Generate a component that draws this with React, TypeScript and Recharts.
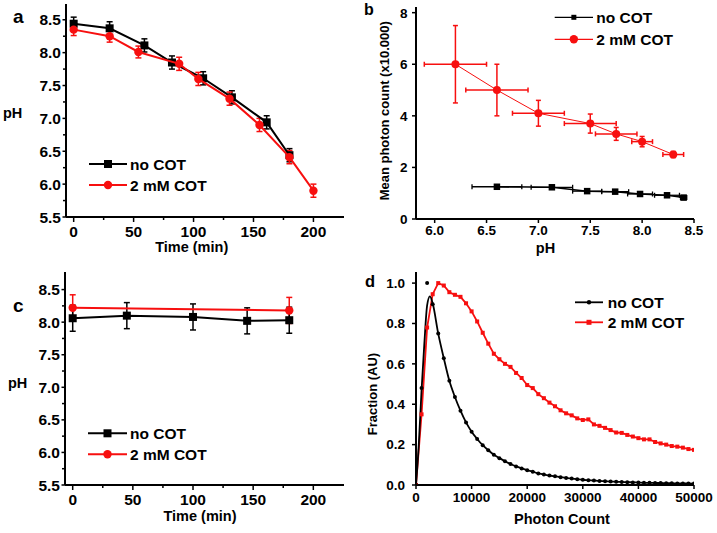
import React from 'react';
import { ComposedChart, Scatter, Line, XAxis, YAxis, ErrorBar } from 'recharts';

const FONT = '"Liberation Sans", Arial, Helvetica, sans-serif';
const RED = '#f70f0f';
const BLACK = '#000000';

// ---------- Panel a ----------
const aTimeNoCot = [0, 30, 59, 82, 108, 132, 161, 180];
const aPhNoCot = [8.44, 8.37, 8.11, 7.85, 7.61, 7.32, 6.94, 6.44];
const aErrNoCot = [0.1, 0.1, 0.1, 0.1, 0.1, 0.1, 0.1, 0.1];
const aTimeCot = [0, 30, 54, 88, 104, 130, 155, 180, 200];
const aPhCot = [8.35, 8.25, 8.01, 7.83, 7.6, 7.3, 6.9, 6.41, 5.9];
const aErrCot = [0.09, 0.09, 0.09, 0.1, 0.1, 0.1, 0.1, 0.1, 0.1];
const timeTicks = [0, 25, 50, 75, 100, 125, 150, 175, 200];
const timeMajor = [0, 50, 100, 150, 200];
const phTicks = [5.5, 5.75, 6, 6.25, 6.5, 6.75, 7, 7.25, 7.5, 7.75, 8, 8.25, 8.5];
const phMajor = [5.5, 6, 6.5, 7, 7.5, 8, 8.5];

// ---------- Panel b ----------
const bPhNoCot = [6.6, 7.13, 7.47, 7.74, 7.98, 8.24, 8.4];
const bCountNoCot = [1.25, 1.23, 1.08, 1.06, 0.97, 0.92, 0.83];
const bPhErrNoCot = [0.24, 0.2, 0.14, 0.13, 0.12, 0.12, 0.03];
const bCountErrNoCot = [0.08, 0.05, 0.05, 0.04, 0.04, 0.04, 0.04];
const bPhCot = [6.2, 6.6, 7.0, 7.5, 7.75, 8.0, 8.3];
const bCountCot = [6.0, 5.0, 4.1, 3.7, 3.3, 3.0, 2.5];
const bPhErrCot = [0.3, 0.3, 0.25, 0.25, 0.2, 0.1, 0.1];
const bCountErrCot = [1.5, 1.0, 0.5, 0.37, 0.25, 0.2, 0.12];
const bXTicks = [6.0, 6.5, 7.0, 7.5, 8.0, 8.5];
const bYTicks = [0, 2, 4, 6, 8];

// ---------- Panel c ----------
const cTimeNoCot = [0, 45, 100, 145, 180];
const cPhNoCot = [8.06, 8.1, 8.08, 8.02, 8.03];
const cErrNoCot = [0.2, 0.2, 0.2, 0.2, 0.2];
const cTimeCot = [0, 180];
const cPhCot = [8.22, 8.18];
const cErrCot = [0.2, 0.2];

// ---------- Panel d ----------
const dCounts = [0, 1000, 2000, 3000, 4000, 5000, 6000, 7000, 8000, 9000, 10000, 11000, 12000, 13000, 14000, 15000, 16000, 17000, 18000, 19000, 20000, 21000, 22000, 23000, 24000, 25000, 26000, 27000, 28000, 29000, 30000, 31000, 32000, 33000, 34000, 35000, 36000, 37000, 38000, 39000, 40000, 41000, 42000, 43000, 44000, 45000, 46000, 47000, 48000, 49000, 50000];
const dNoCot = [0, 0.48, 1.0, 0.895, 0.75, 0.628, 0.516, 0.436, 0.368, 0.31, 0.264, 0.228, 0.197, 0.172, 0.15, 0.133, 0.118, 0.104, 0.092, 0.082, 0.073, 0.066, 0.057, 0.052, 0.047, 0.043, 0.039, 0.035, 0.032, 0.029, 0.026, 0.024, 0.022, 0.02, 0.019, 0.017, 0.016, 0.015, 0.014, 0.013, 0.012, 0.011, 0.011, 0.01, 0.01, 0.009, 0.009, 0.008, 0.008, 0.008, 0.007];
const dCot = [0, 0.35, 0.78, 0.945, 1.0, 0.988, 0.955, 0.942, 0.932, 0.9, 0.86, 0.81, 0.754, 0.7, 0.65, 0.623, 0.6, 0.585, 0.555, 0.53, 0.495, 0.48, 0.45, 0.43, 0.408, 0.39, 0.37, 0.355, 0.345, 0.33, 0.322, 0.325, 0.3, 0.293, 0.283, 0.272, 0.26, 0.258, 0.248, 0.24, 0.232, 0.226, 0.226, 0.213, 0.206, 0.2, 0.193, 0.19, 0.185, 0.178, 0.174];
const dFitHeadX = [0, 500, 1000, 1500, 2000, 2500, 3000];
const dFitHeadY = [0, 0.2, 0.47, 0.7, 0.89, 0.934, 0.9];
const dXTicks = [0, 10000, 20000, 30000, 40000, 50000];
const dYTicks = [0, 0.2, 0.4, 0.6, 0.8, 1.0];

// ---------- derived tables ----------
const zip3 = (xs: number[], ys: number[], es: number[]) => xs.map((x, i) => ({ x, y: ys[i], e: es[i] }));
const aNo = zip3(aTimeNoCot, aPhNoCot, aErrNoCot);
const aCo = zip3(aTimeCot, aPhCot, aErrCot);
const cNo = zip3(cTimeNoCot, cPhNoCot, cErrNoCot);
const cCo = zip3(cTimeCot, cPhCot, cErrCot);
const bNo = bPhNoCot.map((x, i) => ({ x, y: bCountNoCot[i], ex: bPhErrNoCot[i], ey: bCountErrNoCot[i] }));
const bCo = bPhCot.map((x, i) => ({ x, y: bCountCot[i], ex: bPhErrCot[i], ey: bCountErrCot[i] }));
const dNoDots = dCounts.map((x, i) => ({ x, y: dNoCot[i] }));
const dCoPts = dCounts.map((x, i) => ({ x, y: dCot[i] }));
const dNoFit = [
  ...dFitHeadX.map((x, i) => ({ x, y: dFitHeadY[i] })),
  ...dNoDots.filter((p) => p.x > 3000),
];

// ---------- helpers ----------
const isIn = (list: number[], v: number) => list.some((m) => Math.abs(m - v) < 1e-9);

type TickOpts = { majors: number[]; fmt: (v: number) => string; size: number; majorLen: number; minorLen: number; gap: number };

const xTick = (o: TickOpts) => (p: any) => {
  const v = p.payload.value;
  const major = isIn(o.majors, v);
  return (
    <g>
      <line x1={p.x} x2={p.x} y1={p.y} y2={p.y + (major ? o.majorLen : o.minorLen)} stroke={BLACK} strokeWidth={1.5} />
      {major && (
        <text x={p.x} y={p.y + o.gap} textAnchor="middle" fontFamily={FONT} fontWeight="bold" fontSize={o.size} fill={BLACK}>
          {o.fmt(v)}
        </text>
      )}
    </g>
  );
};

const yTick = (o: TickOpts) => (p: any) => {
  const v = p.payload.value;
  const major = isIn(o.majors, v);
  return (
    <g>
      <line x1={p.x} x2={p.x - (major ? o.majorLen : o.minorLen)} y1={p.y} y2={p.y} stroke={BLACK} strokeWidth={1.5} />
      {major && (
        <text x={p.x - o.gap} y={p.y + o.size * 0.36} textAnchor="end" fontFamily={FONT} fontWeight="bold" fontSize={o.size} fill={BLACK}>
          {o.fmt(v)}
        </text>
      )}
    </g>
  );
};

const square = (s: number, c: string) => (p: any) => (
  <rect x={p.cx - s / 2} y={p.cy - s / 2} width={s} height={s} fill={c} />
);
const circle = (r: number, c: string) => (p: any) => <circle cx={p.cx} cy={p.cy} r={r} fill={c} />;

const frameLine = { stroke: BLACK, strokeWidth: 2 };

const Frame = () => [
  <XAxis key="ft" xAxisId="top" orientation="top" type="number" domain={[0, 1]} height={0} tick={false} tickLine={false} axisLine={frameLine} />,
  <YAxis key="fr" yAxisId="right" orientation="right" type="number" domain={[0, 1]} width={0} tick={false} tickLine={false} axisLine={frameLine} />,
];

const Txt = (props: any) => (
  <text fontFamily={FONT} fontWeight="bold" fill={BLACK} {...props} />
);

type LegendRow = { label: string; color: string; marker: 'square' | 'circle' | 'dot' | 'smallsquare'; y: number };
const LegendBox = ({ x1, x2, textX, rows, size, sw }: { x1: number; x2: number; textX: number; rows: LegendRow[]; size: number; sw: number }) => (
  <g>
    {rows.map((r) => {
      const mx = (x1 + x2) / 2;
      let m: any = null;
      if (r.marker === 'square') m = <rect x={mx - 4} y={r.y - 4} width={8} height={8} fill={r.color} />;
      if (r.marker === 'smallsquare') m = <rect x={mx - 2.5} y={r.y - 2.5} width={5} height={5} fill={r.color} />;
      if (r.marker === 'circle') m = <circle cx={mx} cy={r.y} r={4.2} fill={r.color} />;
      if (r.marker === 'dot') m = <circle cx={mx} cy={r.y} r={2.2} fill={r.color} />;
      return (
        <g key={r.label}>
          <line x1={x1} x2={x2} y1={r.y} y2={r.y} stroke={r.color} strokeWidth={sw} />
          {m}
          <Txt x={textX} y={r.y + size * 0.36} fontSize={size}>{r.label}</Txt>
        </g>
      );
    })}
  </g>
);

const fmt1 = (v: number) => v.toFixed(1);
const fmt0 = (v: number) => String(v);

function PanelA() {
  return (
    <ComposedChart width={358} height={265} margin={{ top: 4, right: 14, bottom: 0, left: 0 }}>
      <XAxis type="number" dataKey="x" domain={[-6.4, 225.5]} ticks={timeTicks} allowDataOverflow height={48} tickSize={0} tickMargin={0} tickLine={false} axisLine={frameLine} interval={0}
        tick={xTick({ majors: timeMajor, fmt: fmt0, size: 15.5, majorLen: 5, minorLen: 3, gap: 19.5 })} />
      <YAxis type="number" dataKey="y" domain={[5.5, 8.74]} ticks={phTicks} allowDataOverflow width={66} tickSize={0} tickMargin={0} tickLine={false} axisLine={frameLine} interval={0}
        tick={yTick({ majors: phMajor, fmt: fmt1, size: 15.5, majorLen: 3.5, minorLen: 3, gap: 5 })} />
      {Frame()}
      <Scatter data={aNo} line={{ stroke: BLACK, strokeWidth: 2 }} lineType="joint" shape={square(8, BLACK)} isAnimationActive={false}>
        <ErrorBar dataKey="e" direction="y" stroke={BLACK} strokeWidth={1.5} width={3} isAnimationActive={false} />
      </Scatter>
      <Scatter data={aCo} line={{ stroke: RED, strokeWidth: 2 }} lineType="joint" shape={circle(4.2, RED)} isAnimationActive={false}>
        <ErrorBar dataKey="e" direction="y" stroke={RED} strokeWidth={1.5} width={3} isAnimationActive={false} />
      </Scatter>
      <Txt x={13} y={23.3} fontSize={19}>a</Txt>
      <Txt x={3} y={117.5} fontSize={14.5}>pH</Txt>
      <Txt x={191.7} y={252} fontSize={14.5} textAnchor="middle">Time (min)</Txt>
      <LegendBox x1={89} x2={127} textX={130} size={15.5} sw={2}
        rows={[{ label: 'no COT', color: BLACK, marker: 'square', y: 164 }, { label: '2 mM COT', color: RED, marker: 'circle', y: 185 }]} />
    </ComposedChart>
  );
}

function PanelB() {
  return (
    <ComposedChart width={359} height={265} margin={{ top: 7, right: 23, bottom: 0, left: 0 }}>
      <XAxis type="number" dataKey="x" domain={[5.82, 8.5]} ticks={bXTicks} allowDataOverflow height={46} tickSize={0} tickMargin={0} tickLine={false} axisLine={frameLine} interval={0}
        tick={xTick({ majors: bXTicks, fmt: fmt1, size: 13.5, majorLen: 4, minorLen: 2, gap: 16 })} />
      <YAxis type="number" dataKey="y" domain={[0, 8.22]} ticks={bYTicks} allowDataOverflow width={58} tickSize={0} tickMargin={0} tickLine={false} axisLine={frameLine} interval={0}
        tick={yTick({ majors: bYTicks, fmt: fmt0, size: 13.5, majorLen: 4, minorLen: 2, gap: 8.5 })} />
      {Frame()}
      <Scatter data={bNo} line={{ stroke: BLACK, strokeWidth: 1.5 }} lineType="joint" shape={square(6.5, BLACK)} isAnimationActive={false}>
        <ErrorBar dataKey="ex" direction="x" stroke={BLACK} strokeWidth={1.3} width={2.5} isAnimationActive={false} />
        <ErrorBar dataKey="ey" direction="y" stroke={BLACK} strokeWidth={1.3} width={2.5} isAnimationActive={false} />
      </Scatter>
      <Scatter data={bCo} line={{ stroke: RED, strokeWidth: 1 }} lineType="joint" shape={circle(4, RED)} isAnimationActive={false}>
        <ErrorBar dataKey="ex" direction="x" stroke={RED} strokeWidth={1.5} width={2.5} isAnimationActive={false} />
        <ErrorBar dataKey="ey" direction="y" stroke={RED} strokeWidth={1.5} width={2.5} isAnimationActive={false} />
      </Scatter>
      <Txt x={6} y={14.5} fontSize={16}>b</Txt>
      <Txt x={0} y={0} fontSize={13} textAnchor="middle" dominantBaseline="central" transform="translate(26.7,110.8) rotate(-90)">Mean photon count (x10.000)</Txt>
      <Txt x={187.5} y={253} fontSize={14.5} textAnchor="middle">pH</Txt>
      <LegendBox x1={196.7} x2={235} textX={238.3} size={15.5} sw={1.3}
        rows={[{ label: 'no COT', color: BLACK, marker: 'smallsquare', y: 17.3 }, { label: '2 mM COT', color: RED, marker: 'circle', y: 39.3 }]} />
    </ComposedChart>
  );
}

function PanelC() {
  return (
    <ComposedChart width={358} height={268} margin={{ top: 7, right: 14, bottom: 0, left: 0 }}>
      <XAxis type="number" dataKey="x" domain={[-6.4, 225.5]} ticks={timeTicks} allowDataOverflow height={48} tickSize={0} tickMargin={0} tickLine={false} axisLine={frameLine} interval={0}
        tick={xTick({ majors: timeMajor, fmt: fmt0, size: 15.5, majorLen: 5, minorLen: 3, gap: 20 })} />
      <YAxis type="number" dataKey="y" domain={[5.5, 8.77]} ticks={phTicks} allowDataOverflow width={65} tickSize={0} tickMargin={0} tickLine={false} axisLine={frameLine} interval={0}
        tick={yTick({ majors: phMajor, fmt: fmt1, size: 15.5, majorLen: 3.5, minorLen: 3, gap: 5 })} />
      {Frame()}
      <Scatter data={cCo} line={{ stroke: RED, strokeWidth: 2 }} lineType="joint" shape={circle(4.2, RED)} isAnimationActive={false}>
        <ErrorBar dataKey="e" direction="y" stroke={RED} strokeWidth={1.5} width={3} isAnimationActive={false} />
      </Scatter>
      <Scatter data={cNo} line={{ stroke: BLACK, strokeWidth: 2 }} lineType="joint" shape={square(8, BLACK)} isAnimationActive={false}>
        <ErrorBar dataKey="e" direction="y" stroke={BLACK} strokeWidth={1.5} width={3} isAnimationActive={false} />
      </Scatter>
      <Txt x={13} y={47} fontSize={19}>c</Txt>
      <Txt x={8} y={123} fontSize={14.5}>pH</Txt>
      <Txt x={200} y={256} fontSize={14.5} textAnchor="middle">Time (min)</Txt>
      <LegendBox x1={88} x2={127} textX={130} size={15.5} sw={2}
        rows={[{ label: 'no COT', color: BLACK, marker: 'square', y: 168.3 }, { label: '2 mM COT', color: RED, marker: 'circle', y: 189.3 }]} />
    </ComposedChart>
  );
}

function PanelD() {
  return (
    <ComposedChart width={359} height={268} margin={{ top: 7, right: 23, bottom: 0, left: 0 }}>
      <XAxis type="number" dataKey="x" domain={[0, 50000]} ticks={dXTicks} allowDataOverflow height={48} tickSize={0} tickMargin={0} tickLine={false} axisLine={frameLine} interval={0}
        tick={xTick({ majors: dXTicks, fmt: fmt0, size: 13.5, majorLen: 4, minorLen: 2, gap: 17.3 })} />
      <YAxis type="number" dataKey="y" domain={[0, 1.055]} ticks={dYTicks} allowDataOverflow width={58} tickSize={0} tickMargin={0} tickLine={false} axisLine={frameLine} interval={0}
        tick={yTick({ majors: dYTicks, fmt: fmt1, size: 13.5, majorLen: 4, minorLen: 2, gap: 11 })} />
      {Frame()}
      <Line data={dCoPts} dataKey="y" type="linear" stroke={RED} strokeWidth={1.8} isAnimationActive={false}
        dot={(p: any) => <rect key={`rd${p.index}`} x={p.cx - 2} y={p.cy - 2} width={4} height={4} fill={RED} />} />
      <Line data={dNoFit} dataKey="y" type="monotone" stroke={BLACK} strokeWidth={1.8} dot={false} isAnimationActive={false} />
      <Scatter data={dNoDots} shape={circle(2, BLACK)} isAnimationActive={false} />
      <Txt x={7} y={21.7} fontSize={16.5}>d</Txt>
      <Txt x={0} y={0} fontSize={13} textAnchor="middle" dominantBaseline="central" transform="translate(14,129) rotate(-90)">Fraction (AU)</Txt>
      <Txt x={204} y={259.3} fontSize={14.5} textAnchor="middle">Photon Count</Txt>
      <LegendBox x1={217} x2={245} textX={249.7} size={15.5} sw={1.8}
        rows={[{ label: 'no COT', color: BLACK, marker: 'dot', y: 37.3 }, { label: '2 mM COT', color: RED, marker: 'smallsquare', y: 57.3 }]} />
    </ComposedChart>
  );
}

export default function App() {
  return (
    <div style={{ position: 'absolute', left: 0, top: 0, width: 717, height: 533, background: '#fff', overflow: 'hidden' }}>
      <div style={{ position: 'absolute', left: 0, top: 0 }}><PanelA /></div>
      <div style={{ position: 'absolute', left: 358, top: 0 }}><PanelB /></div>
      <div style={{ position: 'absolute', left: 0, top: 265 }}><PanelC /></div>
      <div style={{ position: 'absolute', left: 358, top: 265 }}><PanelD /></div>
    </div>
  );
}
